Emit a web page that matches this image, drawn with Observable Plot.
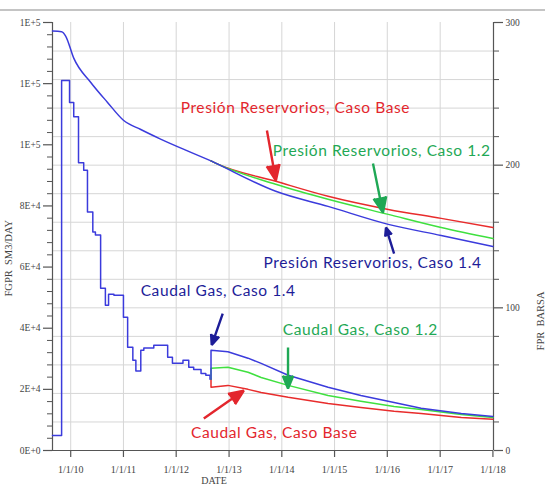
<!DOCTYPE html>
<html><head><meta charset="utf-8">
<script src="https://cdn.jsdelivr.net/npm/d3@7"></script>
<script src="https://cdn.jsdelivr.net/npm/@observablehq/plot@0.6"></script>
<style>
body{margin:0;background:#fff;}
#wrap{position:relative;width:545px;height:496px;}
#topbar{position:absolute;left:0;top:9px;width:545px;height:2px;background:#c4c4c4;}
</style></head><body>
<div id="wrap"><div id="chart"></div><div id="topbar"></div></div>
<script>
// ---- Data ----
// History gas rate (step series), SM3/DAY
const histGasDates = ["2009-08-28","2009-10-30","2009-12-24","2010-01-22","2010-02-24","2010-04-01","2010-04-27","2010-06-03","2010-06-21","2010-07-27","2010-08-29","2010-09-20","2010-10-27","2011-01-01","2011-01-30","2011-03-07","2011-03-28","2011-05-01","2011-05-22","2011-07-30","2011-11-03","2011-12-06","2012-02-17","2012-03-28","2012-05-01","2012-06-21","2012-07-24","2012-08-22","2012-08-29"];
const histGasValues = [4900,121000,113800,109200,94100,91700,78000,71500,70500,53100,47500,51100,50800,43600,33800,29500,26000,32800,33500,34400,30500,28500,29500,27200,26500,25200,24600,23300,23300];
// History reservoir pressure, BARSA
const histPresDates = ["2009-08-28","2009-10-30","2009-11-27","2010-01-22","2010-05-20","2010-09-13","2011-01-01","2011-05-01","2011-09-15","2012-04-12","2012-08-29"];
const histPresValues = [294,293.5,290.5,275,258,244,231.5,225,218.3,209,203];
// Forecast gas rate
const fcGasDates = ["2012-08-29","2012-12-24","2013-05-12","2013-08-11","2014-02-14","2014-11-17","2015-07-02","2016-02-17","2016-08-22","2017-05-27","2018-01-01"];
const gasCaso14 = [32800,32300,30200,28500,24600,20700,18000,15700,13800,12100,11100];
const gasCaso12 = [26900,27200,25600,23900,21300,18000,16100,14400,13400,11800,10800];
const gasBase   = [20700,21300,20000,19000,17400,15400,14100,12800,12100,10800,10200];
// Forecast pressure
const fcPresDates = ["2012-08-29","2012-10-15","2013-11-20","2014-11-17","2016-01-08","2017-01-08","2018-01-01"];
const presCaso14 = [203,200.7,181.7,171.1,158.5,150.7,143.0];
const presCaso12 = [203,200.7,186.6,176.1,165.5,156.3,148.6];
const presBase   = [203,200.7,188.7,178.2,169.0,162.7,156.3];
// Axes
const xTickDates = ["2010-01-01","2011-01-01","2012-01-01","2013-01-01","2014-01-01","2015-01-01","2016-01-01","2017-01-01","2018-01-01"];
const xTickLabels = ["1/1/10","1/1/11","1/1/12","1/1/13","1/1/14","1/1/15","1/1/16","1/1/17","1/1/18"];
const leftTicks = [0,20000,40000,60000,80000,100000,120000,140000];
const leftTickLabels = ["0E+0","2E+4","4E+4","6E+4","8E+4","1E+5","1E+5","1E+5"];
const leftMinorStep = 4000;
const rightTicks = [0,100,200,300];
const rightTickLabels = ["0","100","200","300"];
const rightMinorStep = 20;
const gridYears = ["2010-01-01","2011-01-01","2012-01-01","2013-01-01","2014-01-01","2015-01-01","2016-01-01","2017-01-01"];
// Annotations
const noteTexts = ["Presión Reservorios, Caso Base","Presión Reservorios, Caso 1.2","Presión Reservorios, Caso 1.4","Caudal Gas, Caso 1.4","Caudal Gas, Caso 1.2","Caudal Gas, Caso Base"];
const noteDates = ["2012-02-01","2013-10-30","2013-08-28","2011-04-30","2014-01-08","2012-04-12"];
const noteValues = [111900,98100,61200,52300,39300,5600];
const noteColors = ["#e3262d","#1fa855","#1d1d98","#1d1d98","#1fa855","#e3262d"];
const arrowFromDates = ["2013-09-20","2015-09-24","2016-02-17","2012-11-18","2014-02-13","2012-07-10"];
const arrowFromValues = [104700,93900,64400,44800,33700,10500];
const arrowToDates = ["2013-11-21","2015-12-02","2015-12-23","2012-09-03","2014-02-13","2013-04-13"];
const arrowToValues = [88300,77800,72900,34500,20300,19600];

// ---- Build ----
const K = 140000/300; // pressure -> left-axis units
const D = s => new Date(s + "T00:00:00Z");
const xDomain = [D("2009-08-28"), D("2018-01-05")];

const histGas = histGasDates.map((d,i)=>({x:D(d), y:histGasValues[i]}));
const histPres = histPresDates.map((d,i)=>({x:D(d), y:histPresValues[i]*K}));
const lastGas = histGas[histGas.length-1];
const mkGas = arr => [lastGas, ...fcGasDates.map((d,i)=>({x:D(d), y:arr[i]}))];
const mkPres = arr => fcPresDates.map((d,i)=>({x:D(d), y:arr[i]*K}));

const leftMinor = d3.range(0, 140001, leftMinorStep).filter(v => v % 20000 !== 0);
const rightMinor = d3.range(0, 301, rightMinorStep).filter(v => v % 100 !== 0);
const gridPres = d3.range(20, 300, rightMinorStep);
const leftLabel = new Map(leftTicks.map((v,i)=>[v, leftTickLabels[i]]));
const rightLabel = new Map(rightTicks.map((v,i)=>[v, rightTickLabels[i]]));
const xLabel = new Map(xTickDates.map((d,i)=>[+D(d), xTickLabels[i]]));

const notes = noteTexts.map((t,i)=>({t, x:D(noteDates[i]), y:noteValues[i], c:noteColors[i]}));
const arrows = arrowFromDates.map((d,i)=>({x1:D(d), y1:arrowFromValues[i], x2:D(arrowToDates[i]), y2:arrowToValues[i], c:noteColors[i]}));

const axisColor = "#555";
const blue = "#3b3bdc", green = "#3fe03f", red = "#e82c2c";

const chart = Plot.plot({
  width: 545, height: 496,
  marginLeft: 52, marginRight: 52, marginTop: 22, marginBottom: 46,
  x: {type: "utc", domain: xDomain},
  y: {domain: [0, 140000]},
  style: {fontFamily: "'Liberation Serif', serif", fontSize: "9.5px", color: "#444", background: "#fff", overflow: "visible"},
  marks: [
    Plot.ruleX(gridYears.map(D), {stroke: "#d6d6d6", strokeWidth: 1}),
    Plot.ruleY(gridPres.map(p=>p*K), {stroke: "#d6d6d6", strokeWidth: 1}),
    // axis lines
    Plot.ruleX([xDomain[0]], {stroke: axisColor, strokeWidth: 1.2}),
    Plot.ruleX([xDomain[1]], {stroke: axisColor, strokeWidth: 1.2}),
    Plot.ruleY([0], {stroke: axisColor, strokeWidth: 1.2}),
    // left axis
    Plot.axisY(leftTicks, {anchor: "left", tickSize: 9, tickPadding: 3, tickFormat: v => leftLabel.get(v), label: null, stroke: axisColor, strokeWidth: 1.2}),
    Plot.axisY(leftMinor, {anchor: "left", tickSize: 5, tickFormat: () => "", label: null, stroke: axisColor}),
    // right axis (pressure)
    Plot.axisY(rightTicks.map(p=>p*K), {anchor: "right", tickSize: 9, tickPadding: 3, tickFormat: v => rightLabel.get(Math.round(v/K)), label: null, stroke: axisColor, strokeWidth: 1.2}),
    Plot.axisY(rightMinor.map(p=>p*K), {anchor: "right", tickSize: 5, tickFormat: () => "", label: null, stroke: axisColor}),
    // x axis
    Plot.axisX(xTickDates.map(D), {anchor: "bottom", tickSize: 7, tickPadding: 8, tickFormat: d => xLabel.get(+d), label: null, stroke: axisColor, strokeWidth: 1.2, fontSize: 10}),
    // axis titles
    Plot.text(["DATE"], {frameAnchor: "bottom", dx: -59, dy: 33, fontSize: 10, fill: "#444"}),
    Plot.text(["FGPR\u00a0\u00a0SM3/DAY"], {frameAnchor: "left", dx: -44, dy: 60, rotate: -90, fontSize: 10.5, fill: "#444"}),
    Plot.text(["FPR\u00a0\u00a0BARSA"], {frameAnchor: "right", dx: 47, dy: 55, rotate: -90, fontSize: 10.5, fill: "#444"}),
    // data lines
    Plot.line(histPres, {x: "x", y: "y", stroke: blue, strokeWidth: 1.5, curve: "monotone-x"}),
    Plot.line(mkPres(presBase), {x: "x", y: "y", stroke: red, strokeWidth: 1.5, curve: "monotone-x"}),
    Plot.line(mkPres(presCaso12), {x: "x", y: "y", stroke: green, strokeWidth: 1.5, curve: "monotone-x"}),
    Plot.line(mkPres(presCaso14), {x: "x", y: "y", stroke: blue, strokeWidth: 1.5, curve: "monotone-x"}),
    Plot.line(histGas, {x: "x", y: "y", stroke: blue, strokeWidth: 1.5, curve: "step-after"}),
    Plot.line(mkGas(gasBase), {x: "x", y: "y", stroke: red, strokeWidth: 1.5}),
    Plot.line(mkGas(gasCaso12), {x: "x", y: "y", stroke: green, strokeWidth: 1.5}),
    Plot.line(mkGas(gasCaso14), {x: "x", y: "y", stroke: blue, strokeWidth: 1.5}),
    // annotations
    Plot.arrow(arrows, {x1: "x1", y1: "y1", x2: "x2", y2: "y2", stroke: "c", fill: "c", strokeWidth: 2.4, headLength: 12, headAngle: 45, strokeLinejoin: "miter", strokeLinecap: "butt"}),
    Plot.text(notes, {x: "x", y: "y", text: "t", fill: "c", textAnchor: "start", fontFamily: "Lato, 'Open Sans', sans-serif", fontSize: 15.5})
  ]
});
d3.select(chart).selectAll("g[font-family^='Lato'] text").style("letter-spacing", "0.6px");
document.getElementById("chart").appendChild(chart);
</script>
</body></html>
